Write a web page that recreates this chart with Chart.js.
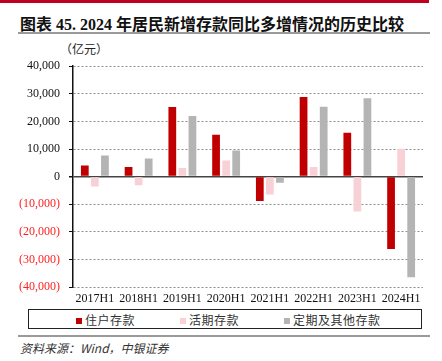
<!DOCTYPE html>
<html>
<head>
<meta charset="utf-8">
<script src="https://cdn.jsdelivr.net/npm/chart.js@4"></script>
<style>
  body { margin: 0; width: 442px; height: 361px; background: #fff; position: relative; overflow: hidden; font-family: "Liberation Serif", "Noto Sans CJK SC", serif; }
  .topbar { position: absolute; left: 0; top: 0; width: 429px; height: 3px; background: #c0001f; }
  .title { position: absolute; left: 20px; top: 11px; font-size: 16px; font-weight: bold; color: #111; white-space: nowrap; }
  .rule { position: absolute; left: 18px; width: 412px; height: 2px; background: #9a9a9a; }
  .unit { position: absolute; left: 60px; top: 40px; font-size: 12px; color: #222; font-family: "Noto Sans CJK SC", sans-serif; }
  .wrap { position: absolute; left: 0; top: 50px; width: 442px; height: 258px; }
  .legend { position: absolute; left: 28px; top: 309px; width: 392px; height: 18px; border: 1px solid #222; font-family: "Noto Sans CJK SC", sans-serif; font-size: 12px; color: #333; }
  .legend span.item { position: absolute; top: 1px; letter-spacing: 0.5px; white-space: nowrap; }
  .legend span.sw { display: inline-block; width: 6px; height: 6px; margin-right: 3px; vertical-align: 1px; }
  .source { position: absolute; left: 20px; top: 339px; font-size: 12px; font-style: italic; color: #333; font-family: "Noto Sans CJK SC", sans-serif; }
</style>
</head>
<body>
<div class="topbar"></div>
<div class="title">图表 45. 2024 年居民新增存款同比多增情况的历史比较</div>
<div class="rule" style="top:32px"></div>
<div class="unit">（亿元）</div>
<div class="wrap"><canvas id="chart"></canvas></div>
<div class="legend" id="legend"></div>
<div class="rule" style="top:335px"></div>
<div class="source">资料来源：Wind，中银证券</div>
<script>
// categories and series (亿元)
const categories = ['2017H1', '2018H1', '2019H1', '2020H1', '2021H1', '2022H1', '2023H1', '2024H1'];
const seriesNames = ['住户存款', '活期存款', '定期及其他存款'];
const household = [4000, 3500, 25200, 15200, -8800, 28800, 15900, -26200];
const demand = [-3600, -3100, 3100, 5800, -6500, 3500, -12600, 10100];
const timeOther = [7600, 6600, 22000, 9500, -2200, 25300, 28400, -36500];
const colors = ['#c00000', '#f8d1d7', '#b4b4b4'];
const yTicks = [-40000, -30000, -20000, -10000, 0, 10000, 20000, 30000, 40000];

// format like 10,000 / (10,000)
function fmt(v) {
  const s = Math.abs(v).toLocaleString('en-US');
  return v < 0 ? '(' + s + ')' : s;
}

const ctx = document.getElementById('chart').getContext('2d');
new Chart(ctx, {
  type: 'bar',
  data: {
    labels: categories,
    datasets: [household, demand, timeOther].map((d, i) => ({
      label: seriesNames[i],
      data: d,
      backgroundColor: colors[i],
      categoryPercentage: 0.69,
      barPercentage: 0.77
    }))
  },
  options: {
    responsive: true,
    maintainAspectRatio: false,
    animation: false,
    layout: { padding: { top: 15, right: 19, bottom: 0, left: 0 } },
    plugins: { legend: { display: false }, tooltip: { enabled: false } },
    scales: {
      x: {
        grid: { display: false, drawTicks: false },
        border: { display: false },
        ticks: { color: '#111', padding: 5, maxRotation: 0, font: { family: 'Liberation Serif', size: 12 } },
        afterFit: (s) => { s.height = 21; }
      },
      y: {
        min: yTicks[0],
        max: yTicks[yTicks.length - 1],
        afterBuildTicks: (s) => { s.ticks = yTicks.map(v => ({ value: v })); },
        grid: {
          color: (c) => c.tick && c.tick.value === 0 ? '#444' : '#8c8c8c',
          lineWidth: (c) => c.tick && c.tick.value === 0 ? 1.5 : 1,
          tickColor: '#111',
          tickLength: 4
        },
        border: {
          color: '#111',
          width: 1.5,
          dash: (c) => c.tick && c.tick.value === 0 ? [] : [2, 2]
        },
        ticks: {
          padding: 9,
          color: (c) => c.tick.value < 0 ? '#ff2020' : '#111',
          font: { family: 'Liberation Serif', size: 12 },
          callback: (v) => fmt(v)
        },
        afterFit: (s) => { s.width = 73; }
      }
    }
  }
});

// legend built from the series arrays
const legend = document.getElementById('legend');
seriesNames.forEach((name, i) => {
  const item = document.createElement('span');
  item.className = 'item';
  item.style.left = (47 + i * 104) + 'px';
  item.innerHTML = '<span class="sw" style="background:' + colors[i] + '"></span>' + name;
  legend.appendChild(item);
});
</script>
</body>
</html>
